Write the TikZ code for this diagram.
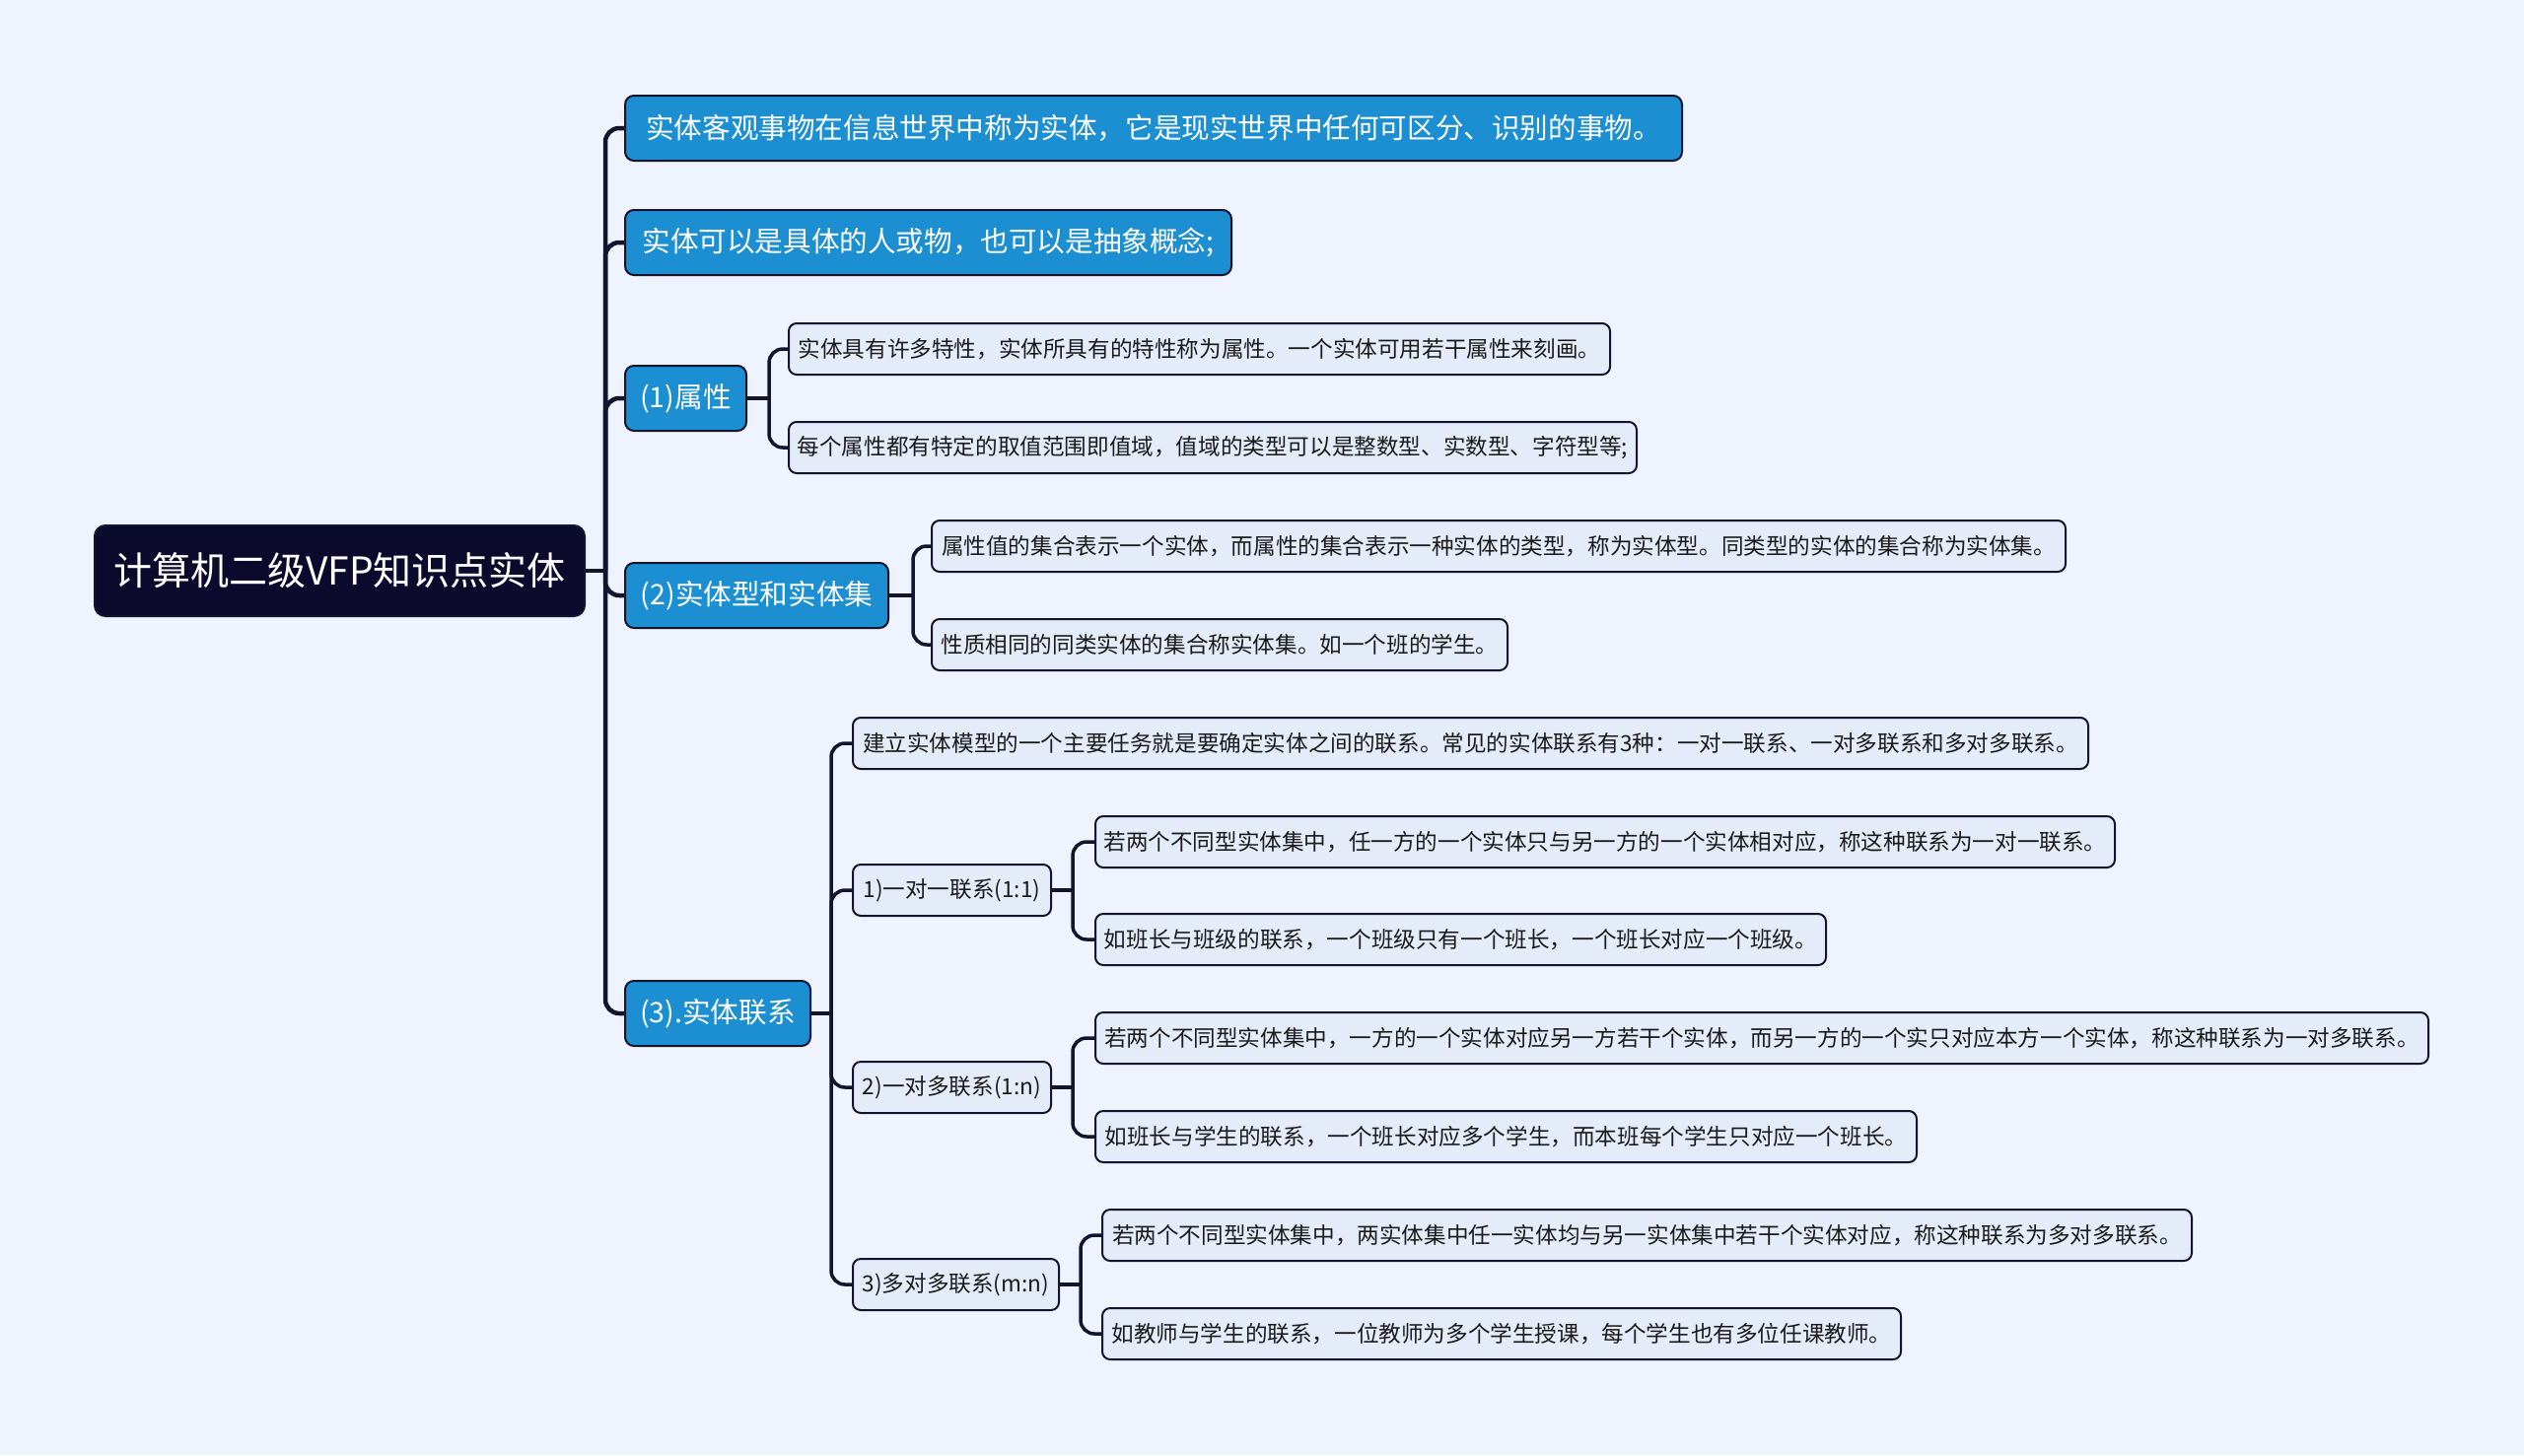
\documentclass[tikz,border=0pt]{standalone}
\usepackage{fontspec}
\setmainfont{Noto Sans CJK SC}
\usetikzlibrary{backgrounds}
\definecolor{bgc}{HTML}{EEF3FD}
\definecolor{rootc}{HTML}{0C0A2C}
\definecolor{bluec}{HTML}{1B8FD1}
\definecolor{leafc}{HTML}{E4ECFA}
\definecolor{edgec}{HTML}{14142E}
\definecolor{txtc}{HTML}{1A1A1A}
\tikzset{
  box/.style={draw=edgec, line width=2pt, rounded corners=8pt, anchor=west, outer sep=0pt, inner xsep=0pt, inner ysep=0pt, align=center},
  rootbox/.style={box, fill=rootc, text=white, font=\fontsize{39}{46}\selectfont, rounded corners=11pt, minimum height=92pt},
  lone/.style={box, fill=bluec, text=white, font=\fontsize{28.6}{34}\selectfont, rounded corners=9pt, minimum height=66pt},
  leaf/.style={box, fill=leafc, text=txtc, font=\fontsize{22.6}{27}\selectfont, minimum height=52pt},
  trunk/.style={draw=edgec, line width=4.5pt},
  conn/.style={draw=edgec, line width=3.5pt},
}
\begin{document}
\begin{tikzpicture}[x=1pt,y=-1pt]
\useasboundingbox (0,0) rectangle (2560,1476);
% root
\node[rootbox, minimum width=497pt] (root) at (96,579) {计算机二级VFP知识点实体};
% level 1
\node[lone, minimum width=1072pt] (a) at (634,130) {实体客观事物在信息世界中称为实体，它是现实世界中任何可区分、识别的事物。};
\node[lone, minimum width=615pt] (b) at (634,246) {实体可以是具体的人或物，也可以是抽象概念;};
\node[lone, minimum width=123pt] (c) at (634,404) {(1)属性};
\node[lone, minimum width=267pt] (d) at (634,604) {(2)实体型和实体集};
\node[lone, minimum width=188pt] (e) at (634,1028) {(3).实体联系};
% (1) children
\node[leaf, minimum width=833pt] (c1) at (800,354) {实体具有许多特性，实体所具有的特性称为属性。一个实体可用若干属性来刻画。};
\node[leaf, minimum width=860pt] (c2) at (800,454) {每个属性都有特定的取值范围即值域，值域的类型可以是整数型、实数型、字符型等;};
% (2) children
\node[leaf, minimum width=1150pt] (d1) at (945,554) {属性值的集合表示一个实体，而属性的集合表示一种实体的类型，称为实体型。同类型的实体的集合称为实体集。};
\node[leaf, minimum width=584pt] (d2) at (945,654) {性质相同的同类实体的集合称实体集。如一个班的学生。};
% (3) children
\node[leaf, minimum width=1253pt] (e0) at (865,754) {建立实体模型的一个主要任务就是要确定实体之间的联系。常见的实体联系有3种：一对一联系、一对多联系和多对多联系。};
\node[leaf, minimum width=201pt] (e1) at (865,903) {1)一对一联系(1:1)};
\node[leaf, minimum width=201pt] (e2) at (865,1103) {2)一对多联系(1:n)};
\node[leaf, minimum width=209pt] (e3) at (865,1303) {3)多对多联系(m:n)};
\node[leaf, minimum width=1034pt] (e11) at (1111,854) {若两个不同型实体集中，任一方的一个实体只与另一方的一个实体相对应，称这种联系为一对一联系。};
\node[leaf, minimum width=741pt] (e12) at (1111,953) {如班长与班级的联系，一个班级只有一个班长，一个班长对应一个班级。};
\node[leaf, minimum width=1352pt] (e21) at (1111,1053) {若两个不同型实体集中，一方的一个实体对应另一方若干个实体，而另一方的一个实只对应本方一个实体，称这种联系为一对多联系。};
\node[leaf, minimum width=833pt] (e22) at (1111,1153) {如班长与学生的联系，一个班长对应多个学生，而本班每个学生只对应一个班长。};
\node[leaf, minimum width=1105pt] (e31) at (1118,1253) {若两个不同型实体集中，两实体集中任一实体均与另一实体集中若干个实体对应，称这种联系为多对多联系。};
\node[leaf, minimum width=810pt] (e32) at (1118,1353) {如教师与学生的联系，一位教师为多个学生授课，每个学生也有多位任课教师。};
% trunk coordinates
\coordinate (t0) at (614,0);
\coordinate (tc) at (780,0);
\coordinate (td) at (926,0);
\coordinate (te) at (843,0);
\coordinate (t1) at (1088,0);
\coordinate (t2) at (1088,0);
\coordinate (t3) at (1096,0);
\begin{scope}[on background layer]
\fill[bgc] (0,0) rectangle (2560,1476);
\draw[trunk] (root.east) -- (root.east -| t0);
\foreach \k in {a,b,c,d,e} \draw[trunk, rounded corners=14pt] (root.east -| t0) |- (\k.west);
\draw[conn] (c.east) -- (c.east -| tc);
\foreach \k in {c1,c2} \draw[conn, rounded corners=14pt] (c.east -| tc) |- (\k.west);
\draw[conn] (d.east) -- (d.east -| td);
\foreach \k in {d1,d2} \draw[conn, rounded corners=14pt] (d.east -| td) |- (\k.west);
\draw[conn] (e.east) -- (e.east -| te);
\foreach \k in {e0,e1,e2,e3} \draw[conn, rounded corners=14pt] (e.east -| te) |- (\k.west);
\draw[conn] (e1.east) -- (e1.east -| t1);
\foreach \k in {e11,e12} \draw[conn, rounded corners=14pt] (e1.east -| t1) |- (\k.west);
\draw[conn] (e2.east) -- (e2.east -| t2);
\foreach \k in {e21,e22} \draw[conn, rounded corners=14pt] (e2.east -| t2) |- (\k.west);
\draw[conn] (e3.east) -- (e3.east -| t3);
\foreach \k in {e31,e32} \draw[conn, rounded corners=14pt] (e3.east -| t3) |- (\k.west);
\end{scope}
\end{tikzpicture}
\end{document}
